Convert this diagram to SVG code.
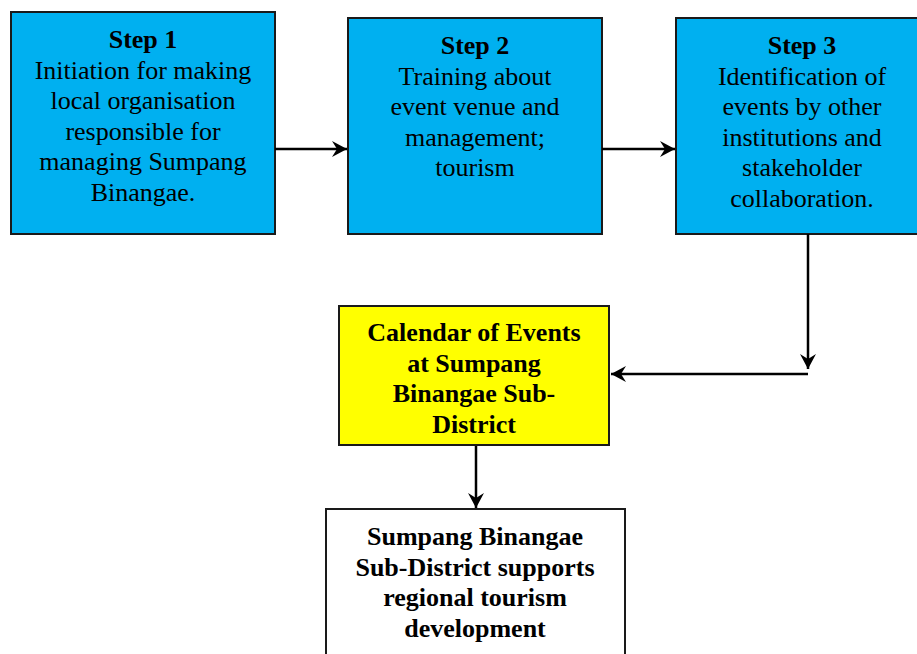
<svg xmlns="http://www.w3.org/2000/svg" width="917" height="654" viewBox="0 0 917 654">
<style>
.box{stroke:#1a1a1a;stroke-width:2}
.blue{fill:#00B0F0}
.yel{fill:#FFFF00}
.wht{fill:#FFFFFF}
text{font-family:"Liberation Serif","Times New Roman",serif;font-size:26px;fill:#000;text-anchor:middle}
.b{font-weight:bold}
.con{stroke:#000;stroke-width:2.5;fill:none;marker-end:url(#ah)}
</style>
<defs>
<marker id="ah" markerUnits="userSpaceOnUse" markerWidth="16" markerHeight="16" refX="15" refY="8" orient="auto">
<path d="M0,0 L15,8 L0,16 L5,8 z" fill="#000"/>
</marker>
</defs>
<rect width="917" height="654" fill="#fff"/>
<g id="step1">
<rect class="box blue" x="11" y="12" width="264" height="222"/>
<text x="143" y="48" class="b">Step 1</text>
<text x="143" y="79">Initiation for making</text>
<text x="143" y="109">local organisation</text>
<text x="143" y="140">responsible for</text>
<text x="143" y="170">managing Sumpang</text>
<text x="143" y="201">Binangae.</text>
</g>
<g id="step2">
<rect class="box blue" x="348" y="18" width="254" height="216"/>
<text x="475" y="54" class="b">Step 2</text>
<text x="475" y="85">Training about</text>
<text x="475" y="115">event venue and</text>
<text x="475" y="146">management;</text>
<text x="475" y="176">tourism</text>
</g>
<g id="step3">
<rect class="box blue" x="676" y="18" width="252" height="216"/>
<text x="802" y="54" class="b">Step 3</text>
<text x="802" y="85">Identification of</text>
<text x="802" y="115">events by other</text>
<text x="802" y="146">institutions and</text>
<text x="802" y="176">stakeholder</text>
<text x="802" y="207">collaboration.</text>
</g>
<g id="calendar">
<rect class="box yel" x="339" y="306" width="270" height="139"/>
<text x="474" y="341" class="b">Calendar of Events</text>
<text x="474" y="372" class="b">at Sumpang</text>
<text x="474" y="402" class="b">Binangae Sub-</text>
<text x="474" y="433" class="b">District</text>
</g>
<g id="outcome">
<rect class="box wht" x="326" y="509" width="299" height="160"/>
<text x="475" y="545" class="b">Sumpang Binangae</text>
<text x="475" y="576" class="b">Sub-District supports</text>
<text x="475" y="606" class="b">regional tourism</text>
<text x="475" y="637" class="b">development</text>
</g>
<g id="connectors">
<line class="con" x1="275" y1="149" x2="347" y2="149"/>
<line class="con" x1="602" y1="149" x2="675" y2="149"/>
<line class="con" x1="808" y1="234" x2="808" y2="369"/>
<line class="con" x1="808" y1="374" x2="611" y2="374"/>
<line class="con" x1="476" y1="446" x2="476" y2="508"/>
</g>
</svg>
